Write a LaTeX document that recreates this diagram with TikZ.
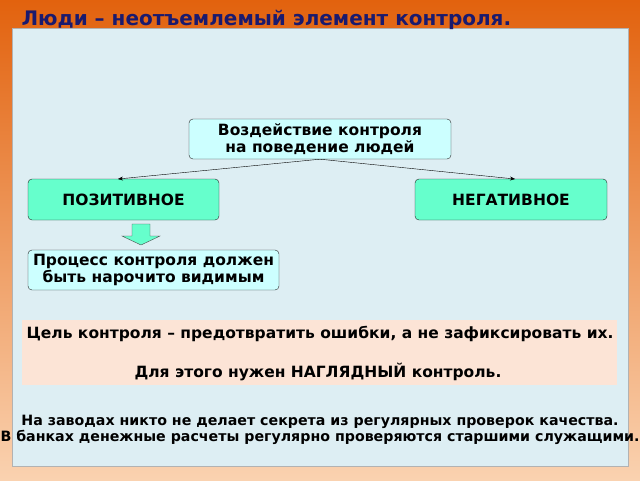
\documentclass[tikz,border=0pt]{standalone}
\usepackage{fontspec}
\setmainfont{DejaVu Sans}
\usetikzlibrary{arrows.meta}
\definecolor{bgtop}{HTML}{E2620E}
\definecolor{bgbot}{HTML}{FAD2B0}
\definecolor{panel}{HTML}{DDEEF3}
\definecolor{cyanbox}{HTML}{CCFFFF}
\definecolor{greenbox}{HTML}{66FFCC}
\definecolor{peach}{HTML}{FCE4D6}
\definecolor{navy}{HTML}{1A1A6E}
\tikzset{
  box/.style={draw=black!85, rounded corners=4pt, align=center, font=\bfseries\fontsize{15.5}{17}\selectfont, inner sep=0pt},
  txt/.style={align=center, font=\bfseries\fontsize{15.5}{18}\selectfont},
  conn/.style={-{Stealth[length=5pt,width=4pt]}, thin}
}
\begin{document}
\begin{tikzpicture}[x=1pt,y=-1pt]
\useasboundingbox (0,0) rectangle (640,480);
\shade[top color=bgtop, bottom color=bgbot] (0,0) rectangle (640,480);
\fill[panel, draw=gray!60] (12,28) rectangle (628,466);
\node[anchor=west, text=navy, font=\bfseries\fontsize{20}{22}\selectfont] (title) at (18,20) {Люди – неотъемлемый элемент контроля.};
\node[box, fill=cyanbox, minimum width=262pt, minimum height=40pt] (b1) at (320,139) {Воздействие контроля\\ на поведение людей};
\node[box, fill=greenbox, minimum width=191pt, minimum height=41pt] (b2) at (123.5,199.5) {ПОЗИТИВНОЕ};
\node[box, fill=greenbox, minimum width=192pt, minimum height=41pt] (b3) at (511,199.5) {НЕГАТИВНОЕ};
\node[box, fill=cyanbox, minimum width=251pt, minimum height=40pt] (b4) at (153.5,270) {Процесс контроля должен\\ быть нарочито видимым};
\draw[conn] (b1.south) -- (118,179);
\draw[conn] (b1.south) -- (515,179);
\draw[draw=black!70, fill=greenbox] (132,224) -- (150,224) -- (150,236) -- (160,236) -- (141,245) -- (122,236) -- (132,236) -- cycle;
\fill[peach] (22,320) rectangle (617,385);
\node[txt] (t1) at (320,334) {Цель контроля – предотвратить ошибки, а не зафиксировать их.};
\node[txt] (t2) at (318,372) {Для этого нужен НАГЛЯДНЫЙ контроль.};
\node[txt, font=\bfseries\fontsize{14.2}{16.5}\selectfont] (t3) at (320,430) {На заводах никто не делает секрета из регулярных проверок качества.\\В банках денежные расчеты регулярно проверяются старшими служащими.};
\end{tikzpicture}
\end{document}
